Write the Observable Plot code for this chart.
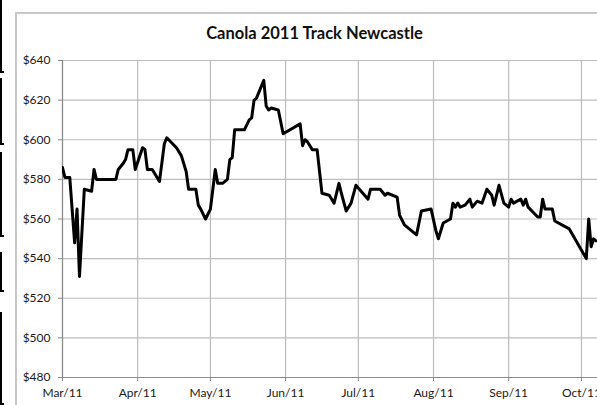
<!DOCTYPE html>
<html>
<head>
<meta charset="utf-8">
<script src="https://cdn.jsdelivr.net/npm/d3@7"></script>
<script src="https://cdn.jsdelivr.net/npm/@observablehq/plot@0.6"></script>
<style>
  html, body { margin: 0; padding: 0; background: #fff; }
  body { width: 597px; height: 405px; overflow: hidden; position: relative; font-family: Lato, "Open Sans", "Liberation Sans", sans-serif; }
  #frame { position: absolute; left: 15px; top: 12px; width: 640px; height: 440px; border-left: 2px solid #c8c8c8; border-top: 2px solid #c8c8c8; }
  #title { position: absolute; left: 0; top: 23px; width: 629px; text-align: center; font-weight: bold; font-size: 16.5px; color: #111; }
  #chart { position: absolute; left: 0; top: 45px; }
  .edge { position: absolute; left: 0; width: 2px; background: #000; }
  .edge::after { content: ""; position: absolute; left: 0; bottom: 0; width: 4px; height: 2px; background: #000; }
</style>
</head>
<body>
<div class="edge" style="top:0;height:73px"></div>
<div class="edge" style="top:78px;height:67px"></div>
<div class="edge" style="top:152px;height:85px"></div>
<div class="edge" style="top:252px;height:40px"></div>
<div class="edge" style="top:312px;height:93px"></div>
<div id="frame"></div>
<div id="title">Canola 2011 Track Newcastle</div>
<div id="chart"></div>
<script>
const dates = [
  "2011-03-01","2011-03-02","2011-03-04","2011-03-06","2011-03-07","2011-03-08","2011-03-10","2011-03-13",
  "2011-03-14","2011-03-15","2011-03-23","2011-03-24","2011-03-26","2011-03-27","2011-03-28","2011-03-30",
  "2011-03-31","2011-04-03","2011-04-04","2011-04-05","2011-04-07","2011-04-10","2011-04-12","2011-04-13",
  "2011-04-17","2011-04-19","2011-04-21","2011-04-22","2011-04-25","2011-04-26","2011-04-27","2011-04-29",
  "2011-05-01","2011-05-03","2011-05-04","2011-05-06","2011-05-08","2011-05-09","2011-05-10","2011-05-11",
  "2011-05-15","2011-05-17","2011-05-18","2011-05-19","2011-05-20","2011-05-23","2011-05-24","2011-05-25",
  "2011-05-26","2011-05-29","2011-05-31","2011-06-07","2011-06-08","2011-06-09","2011-06-10","2011-06-12",
  "2011-06-14","2011-06-16","2011-06-19","2011-06-21","2011-06-23","2011-06-24","2011-06-26","2011-06-28",
  "2011-06-30","2011-07-05","2011-07-06","2011-07-10","2011-07-12","2011-07-13","2011-07-17","2011-07-18",
  "2011-07-20","2011-07-25","2011-07-27","2011-07-31","2011-08-02","2011-08-03","2011-08-05","2011-08-08",
  "2011-08-09","2011-08-10","2011-08-11","2011-08-12","2011-08-14","2011-08-16","2011-08-17","2011-08-19",
  "2011-08-21","2011-08-23","2011-08-25","2011-08-26","2011-08-28","2011-08-30","2011-09-01","2011-09-02",
  "2011-09-03","2011-09-06","2011-09-07","2011-09-08","2011-09-09","2011-09-13","2011-09-14","2011-09-15",
  "2011-09-16","2011-09-19","2011-09-20","2011-09-26","2011-10-03","2011-10-04","2011-10-05","2011-10-06",
  "2011-10-07"
];
const prices = [
  586, 581, 581, 548, 565, 531, 575, 574,
  585, 580, 580, 585, 588, 590, 595, 595,
  585, 596, 595, 585, 585, 579, 598, 601,
  596, 592, 584, 575, 575, 567, 565, 560,
  565, 585, 578, 578, 580, 590, 591, 605,
  605, 610, 611, 620, 621, 630, 617, 615,
  616, 615, 603, 608, 597, 600, 599, 595,
  595, 573, 572, 568, 578, 573, 564, 568,
  577, 570, 575, 575, 572, 573, 571, 562,
  557, 552, 564, 565, 554, 550, 558, 560,
  568, 566, 568, 566, 567, 570, 566, 569,
  568, 575, 572, 567, 577, 568, 566, 570,
  568, 570, 567, 570, 566, 561, 561, 570,
  565, 565, 559, 555, 540, 560, 546, 550,
  549
];
const monthTicks = ["2011-03-01","2011-04-01","2011-05-01","2011-06-01","2011-07-01","2011-08-01","2011-09-01","2011-10-01"];
const yTicks = [480, 500, 520, 540, 560, 580, 600, 620, 640];

const data = dates.map((d, i) => ({date: new Date(d), price: prices[i]}));
const xt = monthTicks.map(d => new Date(d));
const fmtX = d3.utcFormat("%b/%y");
const fmtY = d => "$" + d;
const xDomain = [new Date("2011-03-01"), new Date(Date.UTC(2011, 9, 7, 15))];

const chart = Plot.plot({
  width: 597,
  height: 360,
  marginLeft: 62,
  marginRight: 0,
  marginTop: 15,
  marginBottom: 28,
  style: { fontFamily: "Lato, 'Open Sans', sans-serif", fontSize: "12px", color: "#1a1a1a", background: "transparent" },
  x: { type: "utc", domain: xDomain, label: null },
  y: { domain: [480, 640], label: null },
  marks: [
    Plot.gridX(xt, { stroke: "#bdbdbd", strokeOpacity: 1, strokeWidth: 1.2 }),
    Plot.gridY(yTicks, { stroke: "#bdbdbd", strokeOpacity: 1, strokeWidth: 1.2 }),
    Plot.axisX({ ticks: xt, tickFormat: fmtX, tickSize: 4, tickPadding: 7, stroke: "#8a8a8a", label: null }),
    Plot.axisY({ ticks: yTicks, tickFormat: fmtY, tickSize: 4, tickPadding: 8, stroke: "#8a8a8a", label: null }),
    Plot.ruleY([480], { stroke: "#8a8a8a", strokeWidth: 1.2 }),
    Plot.ruleX([xDomain[0]], { stroke: "#8a8a8a", strokeWidth: 1.2 }),
    Plot.line(data, { x: "date", y: "price", stroke: "#000", strokeWidth: 3, strokeLinejoin: "round", clip: true })
  ]
});
document.getElementById("chart").appendChild(chart);
</script>
</body>
</html>
